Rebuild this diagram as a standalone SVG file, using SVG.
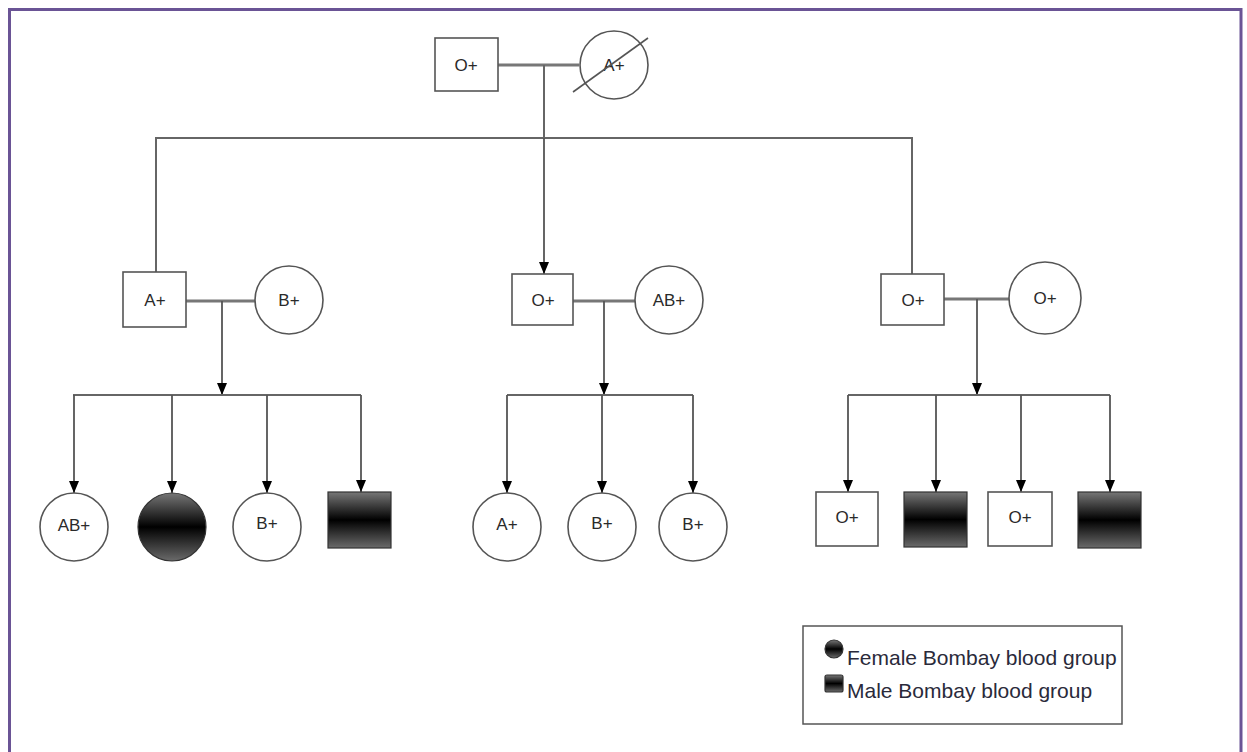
<svg xmlns="http://www.w3.org/2000/svg" width="1247" height="752" viewBox="0 0 1247 752">
<defs>
<style>
.frame{fill:none;stroke:#6a5495;stroke-width:3}
.m{fill:#fff;stroke:#555;stroke-width:1.6}
.f{fill:#fff;stroke:#555;stroke-width:1.6}
.bm{fill:url(#bomb);stroke:#333;stroke-width:1.2}
.lbl{font-family:"Liberation Sans",Arial,sans-serif;font-size:17px;fill:#2a2a2a;text-anchor:middle;dominant-baseline:central}
.leg{font-family:"Liberation Sans",Arial,sans-serif;font-size:21px;fill:#2a2a3a}
.ln{fill:none;stroke:#666;stroke-width:2}
.mar{fill:none;stroke:#777;stroke-width:3}
.arr{fill:none;stroke:#555;stroke-width:1.8;marker-end:url(#ah)}
</style>
<linearGradient id="bomb" x1="0" y1="0" x2="0" y2="1">
<stop offset="0" stop-color="#777"/>
<stop offset="0.5" stop-color="#000"/>
<stop offset="1" stop-color="#6a6a6a"/>
</linearGradient>
<marker id="ah" viewBox="0 0 12 10" refX="12" refY="5" markerWidth="12" markerHeight="10" markerUnits="userSpaceOnUse" orient="auto">
<path d="M0,0 L12,5 L0,10 Z" fill="#000"/>
</marker>
</defs>
<rect width="1247" height="752" fill="#fff"/>
<path class="frame" d="M9.5,752 V9.5 H1241 V752"/>

<g id="connectors">
<line class="mar" x1="498" y1="65" x2="579" y2="65"/>
<line class="ln" x1="544" y1="65" x2="544" y2="138"/>
<path class="ln" d="M156,272 V138 H912 V274"/>
<line class="arr" x1="544" y1="138" x2="544" y2="274"/>

<line class="mar" x1="186" y1="301" x2="255" y2="301"/>
<line class="arr" x1="222" y1="301" x2="222" y2="395"/>
<path class="ln" d="M73,395 H361"/>
<line class="arr" x1="74" y1="395" x2="74" y2="493"/>
<line class="arr" x1="172" y1="395" x2="172" y2="493"/>
<line class="arr" x1="267" y1="395" x2="267" y2="493"/>
<line class="arr" x1="361" y1="395" x2="361" y2="492"/>

<line class="mar" x1="573" y1="301" x2="635" y2="301"/>
<line class="arr" x1="604" y1="301" x2="604" y2="395"/>
<path class="ln" d="M507,395 H693"/>
<line class="arr" x1="507" y1="395" x2="507" y2="493"/>
<line class="arr" x1="602" y1="395" x2="602" y2="493"/>
<line class="arr" x1="693" y1="395" x2="693" y2="493"/>

<line class="mar" x1="944" y1="299" x2="1009" y2="299"/>
<line class="arr" x1="977" y1="299" x2="977" y2="395"/>
<path class="ln" d="M848,395 H1110"/>
<line class="arr" x1="848" y1="395" x2="848" y2="492"/>
<line class="arr" x1="936" y1="395" x2="936" y2="492"/>
<line class="arr" x1="1021" y1="395" x2="1021" y2="492"/>
<line class="arr" x1="1110" y1="395" x2="1110" y2="492"/>
</g>

<g id="gp-father"><rect class="m" x="435" y="38" width="63" height="53"/><text class="lbl" x="466" y="65">O+</text></g>
<g id="gp-mother"><circle class="f" cx="614" cy="65" r="34"/><text class="lbl" x="614" y="65">A+</text><line x1="573" y1="92" x2="648" y2="38" stroke="#555" stroke-width="1.6"/></g>

<g id="p1-father"><rect class="m" x="123" y="272" width="63" height="55"/><text class="lbl" x="155" y="300">A+</text></g>
<g id="p1-mother"><circle class="f" cx="289" cy="300" r="34"/><text class="lbl" x="289" y="300">B+</text></g>
<g id="p2-father"><rect class="m" x="512" y="274" width="61" height="51"/><text class="lbl" x="543" y="300">O+</text></g>
<g id="p2-mother"><circle class="f" cx="669" cy="300" r="34"/><text class="lbl" x="669" y="300">AB+</text></g>
<g id="p3-father"><rect class="m" x="881" y="274" width="63" height="51"/><text class="lbl" x="913" y="300">O+</text></g>
<g id="p3-mother"><circle class="f" cx="1045" cy="298" r="36"/><text class="lbl" x="1045" y="298">O+</text></g>

<g id="c1"><circle class="f" cx="74" cy="527" r="34"/><text class="lbl" x="74" y="525">AB+</text></g>
<g id="c2"><circle class="bm" cx="172" cy="527" r="34"/></g>
<g id="c3"><circle class="f" cx="267" cy="527" r="34"/><text class="lbl" x="267" y="523">B+</text></g>
<g id="c4"><rect class="bm" x="328" y="492" width="63" height="56"/></g>

<g id="c5"><circle class="f" cx="507" cy="527" r="34"/><text class="lbl" x="507" y="524">A+</text></g>
<g id="c6"><circle class="f" cx="602" cy="527" r="34"/><text class="lbl" x="602" y="523">B+</text></g>
<g id="c7"><circle class="f" cx="693" cy="527" r="34"/><text class="lbl" x="693" y="524">B+</text></g>

<g id="c8"><rect class="m" x="816" y="492" width="62" height="54"/><text class="lbl" x="847" y="517">O+</text></g>
<g id="c9"><rect class="bm" x="904" y="492" width="63" height="55"/></g>
<g id="c10"><rect class="m" x="988" y="492" width="64" height="54"/><text class="lbl" x="1020" y="517">O+</text></g>
<g id="c11"><rect class="bm" x="1078" y="492" width="63" height="56"/></g>

<g id="legend">
<rect x="803" y="626" width="319" height="98" fill="#fff" stroke="#555" stroke-width="1.5"/>
<circle class="bm" cx="834" cy="649" r="9"/>
<text class="leg" x="847" y="665">Female Bombay blood group</text>
<rect class="bm" x="825" y="675" width="18" height="17" rx="2"/>
<text class="leg" x="847" y="698">Male Bombay blood group</text>
</g>
</svg>
